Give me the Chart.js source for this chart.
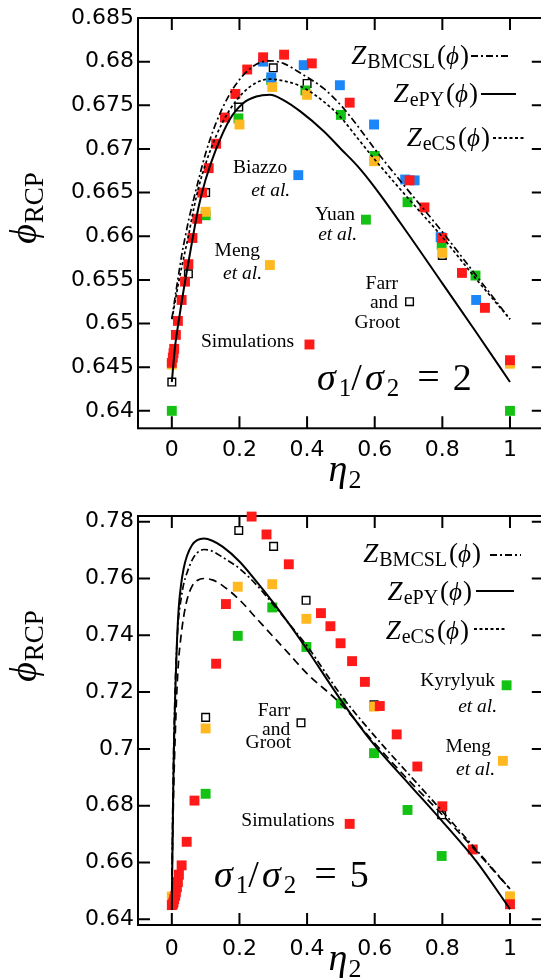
<!DOCTYPE html>
<html>
<head>
<meta charset="utf-8">
<script src="https://cdn.jsdelivr.net/npm/chart.js@4.4.1/dist/chart.umd.min.js"></script>
<style>
html, body { margin: 0; padding: 0; background: #fff; overflow: hidden; width: 541px; height: 980px; }
.panel { position: absolute; left: 0; width: 560px; }
</style>
</head>
<body>
<div class="panel" style="top:0;height:500px"><canvas id="c2" width="560" height="500"></canvas></div>
<div class="panel" style="top:490px;height:490px"><canvas id="c5" width="560" height="490"></canvas></div>
<script>
'use strict';

// ---- axes -------------------------------------------------------------
var xTicks = [0, 0.2, 0.4, 0.6, 0.8, 1];
var yTicks2 = [0.64, 0.645, 0.65, 0.655, 0.66, 0.665, 0.67, 0.675, 0.68, 0.685];
var yTicks5 = [0.64, 0.66, 0.68, 0.7, 0.72, 0.74, 0.76, 0.78];

// ---- sigma1/sigma2 = 2 : theory curves -------------------------------
var etaCurve2 = [0, 0.005, 0.01, 0.02, 0.03, 0.04, 0.05, 0.065, 0.08, 0.1, 0.13, 0.17,
	0.21, 0.25, 0.29, 0.33, 0.38, 0.45, 0.5, 0.55, 0.6, 0.7, 0.8, 0.9, 1];
var bmcsl2 = [0.6505, 0.6518, 0.6531, 0.6556, 0.658, 0.66, 0.6619, 0.6643, 0.6666, 0.6695,
	0.6729, 0.6762, 0.6784, 0.6797, 0.6801, 0.6798, 0.6787, 0.6769, 0.675, 0.6726, 0.67,
	0.6652, 0.6605, 0.6555, 0.6505];
var epy2 = [0.6433, 0.6455, 0.6475, 0.6502, 0.6527, 0.655, 0.6572, 0.6605, 0.6635, 0.6665,
	0.6699, 0.6733, 0.6752, 0.676, 0.6762, 0.6756, 0.6743, 0.672, 0.67, 0.668, 0.6656,
	0.6602, 0.6546, 0.649, 0.6433];
var ecs2 = [0.6505, 0.6515, 0.6526, 0.6547, 0.6566, 0.6584, 0.6602, 0.6632, 0.6657, 0.6683,
	0.6714, 0.6744, 0.6764, 0.6776, 0.678, 0.6778, 0.6772, 0.6754, 0.6736, 0.6712, 0.6688,
	0.6643, 0.6599, 0.6551, 0.6505];

// ---- sigma1/sigma2 = 2 : data (last point of each = marker by its label)
var simEta2 = [0, 0.003, 0.005, 0.007, 0.012, 0.018, 0.029, 0.039, 0.049, 0.061, 0.075,
	0.09, 0.109, 0.131, 0.157, 0.188, 0.223, 0.27, 0.332, 0.414, 0.526, 0.703, 0.747, 0.8,
	0.858, 0.926, 1, 0.407];
var simPhi2 = [0.6455, 0.6461, 0.6466, 0.6471, 0.6487, 0.6503, 0.6527, 0.6548, 0.6568,
	0.6598, 0.662, 0.665, 0.6678, 0.6706, 0.6736, 0.6763, 0.6791, 0.6805, 0.6808, 0.6798,
	0.6753, 0.6664, 0.6633, 0.6598, 0.6558, 0.6518, 0.6458, 0.6476];
var biazzoEta2 = [0.27, 0.294, 0.39, 0.497, 0.598, 0.69, 0.718, 0.795, 0.9, 0.374];
var biazzoPhi2 = [0.68, 0.6782, 0.6796, 0.6773, 0.6728, 0.6665, 0.6664, 0.6599, 0.6527, 0.667];
var yuanEta2 = [0, 0.1, 0.197, 0.294, 0.395, 0.5, 0.6, 0.697, 0.798, 0.898, 1, 0.574];
var yuanPhi2 = [0.64, 0.6624, 0.6735, 0.6779, 0.6767, 0.6739, 0.6692, 0.6639, 0.659, 0.6555, 0.64, 0.6619];
var mengEta2 = [0, 0.1, 0.2, 0.297, 0.4, 0.598, 0.8, 1, 0.29];
var mengPhi2 = [0.6453, 0.6628, 0.6728, 0.6771, 0.6762, 0.6686, 0.6581, 0.6454, 0.6567];
var farrEta2 = [0, 0.049, 0.1, 0.198, 0.3, 0.4, 0.8, 0.703];
var farrPhi2 = [0.6433, 0.6557, 0.665, 0.6748, 0.6793, 0.6775, 0.6578, 0.6525];

// ---- sigma1/sigma2 = 5 : theory curves -------------------------------
var etaCurve5 = [0, 0.002, 0.004, 0.006, 0.008, 0.011, 0.015, 0.02, 0.027, 0.035, 0.045,
	0.06, 0.075, 0.095, 0.12, 0.15, 0.2, 0.25, 0.3, 0.35, 0.4, 0.5, 0.6, 0.7, 0.8, 0.9, 1];
var bmcsl5 = [0.6505, 0.672, 0.69, 0.703, 0.713, 0.7255, 0.737, 0.746, 0.7525, 0.758, 0.762,
	0.7665, 0.769, 0.7702, 0.7696, 0.7675, 0.7635, 0.7578, 0.7508, 0.7436, 0.7362, 0.719,
	0.7045, 0.6912, 0.678, 0.6645, 0.6507];
var epy5 = [0.6433, 0.665, 0.684, 0.699, 0.709, 0.723, 0.737, 0.749, 0.7575, 0.7635, 0.768,
	0.7718, 0.7735, 0.7741, 0.7733, 0.7712, 0.766, 0.759, 0.7515, 0.7435, 0.735, 0.7172,
	0.7012, 0.6878, 0.6745, 0.6605, 0.6436];
var ecs5 = [0.6505, 0.664, 0.677, 0.688, 0.697, 0.708, 0.7205, 0.731, 0.7395, 0.7465, 0.7525,
	0.7573, 0.7593, 0.76, 0.7595, 0.7575, 0.7525, 0.746, 0.7395, 0.733, 0.7265, 0.7158,
	0.702, 0.689, 0.6768, 0.664, 0.6507];

// ---- sigma1/sigma2 = 5 : data (last point of each = marker by its label)
var simEta5 = [0, 0.003, 0.005, 0.007, 0.01, 0.012, 0.015, 0.018, 0.021, 0.029, 0.044, 0.067,
	0.131, 0.16, 0.236, 0.28, 0.346, 0.441, 0.469, 0.499, 0.533, 0.571, 0.615, 0.665, 0.726,
	0.8, 0.89, 1, 0.526];
var simPhi5 = [0.645, 0.6453, 0.646, 0.6471, 0.6483, 0.6495, 0.6513, 0.6531, 0.6557, 0.659,
	0.6673, 0.6818, 0.73, 0.751, 0.7818, 0.7755, 0.765, 0.7478, 0.7432, 0.7372, 0.7309,
	0.7236, 0.7151, 0.7051, 0.6938, 0.6798, 0.6646, 0.6453, 0.6736];
var kyrEta5 = [0.1, 0.195, 0.297, 0.398, 0.5, 0.598, 0.697, 0.798, 0.99];
var kyrPhi5 = [0.6842, 0.7398, 0.7498, 0.7359, 0.716, 0.6985, 0.6785, 0.6623, 0.7224];
var mengEta5 = [0, 0.1, 0.195, 0.297, 0.398, 0.598, 1, 0.979];
var mengPhi5 = [0.648, 0.7072, 0.7571, 0.758, 0.7458, 0.7149, 0.6481, 0.6958];
var farrEta5 = [0.1, 0.198, 0.301, 0.397, 0.598, 0.798, 0.382];
var farrPhi5 = [0.7111, 0.7769, 0.7713, 0.7523, 0.7155, 0.6768, 0.7092];

// ---- look -------------------------------------------------------------
var SERIF = '"Liberation Serif", "DejaVu Serif", serif',
	SANS = '"DejaVu Sans", sans-serif',
	PHI = '\u03d5',
	RED = '#ff1a1a',
	BLUE = '#1a86f7',
	GREEN = '#14c214',
	YELLOW = '#ffb820',
	TICK = 12;

function font(size, italic) {
	return (italic ? 'italic ' : '') + size + 'px ' + SERIF;
}

function pts(xs, ys) {
	return xs.map(function (x, i) {
		return { x: x, y: ys[i] };
	});
}

function curve(xs, ys, dash, width) {
	return {
		type: 'line',
		data: pts(xs, ys),
		borderColor: '#000',
		borderWidth: width,
		borderDash: dash,
		pointRadius: 0,
		fill: false,
		cubicInterpolationMode: 'monotone',
		order: 0,
		clip: false
	};
}

function marks(xs, ys, color, order) {
	return {
		type: 'scatter',
		data: pts(xs, ys),
		pointStyle: 'rect',
		pointRadius: 7,
		pointBackgroundColor: color,
		pointBorderWidth: 0,
		order: order,
		clip: false
	};
}

function openMarks(xs, ys) {
	return {
		type: 'scatter',
		data: pts(xs, ys),
		pointStyle: 'rect',
		pointRadius: 5.4,
		pointBackgroundColor: '#fff',
		pointBorderColor: '#000',
		pointBorderWidth: 1.4,
		order: 9,
		clip: false
	};
}

// draws a row of text pieces: {t, f, dy, gap}
function drawRuns(ctx, x, y, runs, align) {
	var w = 0, cx;
	runs.forEach(function (r) {
		ctx.font = r.f;
		w += ctx.measureText(r.t).width + (r.gap || 0);
	});
	cx = align === 'right' ? x - w : (align === 'center' ? x - w / 2 : x);
	runs.forEach(function (r) {
		ctx.font = r.f;
		ctx.fillText(r.t, cx, y + (r.dy || 0));
		cx += ctx.measureText(r.t).width + (r.gap || 0);
	});
}

function zRuns(sub) {
	return [
		{ t: 'Z', f: font(27, true), gap: 1 },
		{ t: sub, f: font(20), dy: 4, gap: 2 },
		{ t: '(', f: font(27) },
		{ t: PHI, f: font(25, true), gap: 1 },
		{ t: ')', f: font(27) }
	];
}

function ratioRuns(n) {
	return [
		{ t: '\u03c3', f: font(38, true), gap: 3 },
		{ t: '1', f: font(25), dy: 6 },
		{ t: '/', f: font(38), gap: 3 },
		{ t: '\u03c3', f: font(38, true), gap: 3 },
		{ t: '2', f: font(25), dy: 6, gap: 18 },
		{ t: '=', f: font(40), gap: 13 },
		{ t: n, f: font(38) }
	];
}

var deco = {
	id: 'deco',
	beforeDatasetsDraw: function (chart, args, opts) {
		var ctx = chart.ctx,
			a = chart.chartArea,
			xs = chart.scales.x,
			ys = chart.scales.y;
		ctx.save();
		ctx.strokeStyle = '#000';
		ctx.lineWidth = 2;
		ctx.strokeRect(a.left, a.top, a.right - a.left, a.bottom - a.top);
		ctx.beginPath();
		xTicks.forEach(function (v) {
			var p = xs.getPixelForValue(v);
			ctx.moveTo(p, a.bottom);
			ctx.lineTo(p, a.bottom - TICK);
			ctx.moveTo(p, a.top);
			ctx.lineTo(p, a.top + TICK);
		});
		opts.yTicks.forEach(function (v) {
			var p = ys.getPixelForValue(v);
			ctx.moveTo(a.left, p);
			ctx.lineTo(a.left + TICK, p);
			ctx.moveTo(a.right, p);
			ctx.lineTo(a.right - TICK, p);
		});
		ctx.stroke();
		ctx.restore();
	},
	afterDraw: function (chart, args, opts) {
		var ctx = chart.ctx,
			xs = chart.scales.x,
			ys = chart.scales.y;
		ctx.save();
		ctx.fillStyle = '#000';
		ctx.strokeStyle = '#000';

		// labels next to the key markers
		ctx.textBaseline = 'middle';
		ctx.textAlign = 'right';
		opts.notes.forEach(function (n) {
			ctx.font = font(19.5, n[3]);
			ctx.fillText(n[0], xs.getPixelForValue(n[1]), ys.getPixelForValue(n[2]));
		});

		ctx.textAlign = 'left';
		ctx.textBaseline = 'alphabetic';
		drawRuns(ctx, xs.getPixelForValue(opts.ratio[1]), ys.getPixelForValue(opts.ratio[2]),
			ratioRuns(opts.ratio[0]), 'left');

		// legend rows: [subscript, text right, baseline, line x0, line x1, line y, dash]
		opts.legend.forEach(function (r) {
			drawRuns(ctx, r[1], r[2], zRuns(r[0]), 'right');
			ctx.beginPath();
			ctx.lineWidth = 1.8;
			ctx.setLineDash(r[6]);
			ctx.moveTo(r[3], r[5]);
			ctx.lineTo(r[4], r[5]);
			ctx.stroke();
		});
		ctx.setLineDash([]);

		// axis titles
		drawRuns(ctx, opts.xTitle[0], opts.xTitle[1], [
			{ t: '\u03b7', f: font(38, true), gap: 1 },
			{ t: '2', f: font(26), dy: 7 }
		], 'center');
		ctx.translate(opts.yTitle[0], opts.yTitle[1]);
		ctx.rotate(-Math.PI / 2);
		drawRuns(ctx, 0, 0, [
			{ t: PHI, f: font(38, true), gap: 1 },
			{ t: 'RCP', f: font(27), dy: 7 }
		], 'center');
		ctx.restore();
	}
};

function panel(id, cfg) {
	var H = cfg.height;
	return new Chart(document.getElementById(id), {
		type: 'scatter',
		data: { datasets: cfg.datasets },
		options: {
			responsive: false,
			animation: false,
			devicePixelRatio: 1,
			layout: { padding: { top: cfg.top, right: 560 - 543.8, bottom: 0, left: 0 } },
			plugins: {
				legend: { display: false },
				tooltip: { enabled: false },
				deco: cfg.deco
			},
			scales: {
				x: {
					type: 'linear',
					min: -0.1,
					max: 1.1,
					grid: { display: false, drawTicks: false },
					border: { display: false },
					afterFit: function (s) { s.height = H - cfg.bottom; },
					afterBuildTicks: function (s) {
						s.ticks = xTicks.map(function (v) { return { value: v }; });
					},
					ticks: {
						padding: cfg.xPad,
						maxRotation: 0,
						autoSkip: false,
						color: '#000',
						font: { family: SANS, size: 22 },
						callback: function (v) { return String(+v.toFixed(3)); }
					}
				},
				y: {
					type: 'linear',
					min: cfg.yMin,
					max: cfg.yMax,
					grid: { display: false, drawTicks: false },
					border: { display: false },
					afterFit: function (s) { s.width = 138; },
					afterBuildTicks: function (s) {
						s.ticks = cfg.yTicks.map(function (v) { return { value: v }; });
					},
					ticks: {
						padding: 4,
						autoSkip: false,
						color: '#000',
						font: { family: SANS, size: 22 },
						callback: function (v) { return String(+v.toFixed(3)); }
					}
				}
			}
		},
		plugins: [deco]
	});
}

panel('c2', {
	height: 500,
	top: 18,
	bottom: 428.3,
	xPad: 9,
	yMin: 0.638,
	yMax: 0.685,
	yTicks: yTicks2,
	datasets: [
		curve(etaCurve2, bmcsl2, [7, 3, 2, 3], 1.7),
		curve(etaCurve2, epy2, [], 2),
		curve(etaCurve2, ecs2, [3, 2.5], 1.7),
		marks(simEta2, simPhi2, RED, 1),
		marks(biazzoEta2, biazzoPhi2, BLUE, 2),
		marks(mengEta2, mengPhi2, YELLOW, 3),
		marks(yuanEta2, yuanPhi2, GREEN, 4),
		openMarks(farrEta2, farrPhi2)
	],
	deco: {
		yTicks: yTicks2,
		notes: [
			['Biazzo', 0.341, 0.6678], ['et al.', 0.35, 0.6652, true],
			['Yuan', 0.542, 0.6625], ['et al.', 0.548, 0.6601, true],
			['Meng', 0.261, 0.6583], ['et al.', 0.267, 0.6557, true],
			['Farr', 0.669, 0.6546], ['and', 0.669, 0.6524], ['Groot', 0.675, 0.6501],
			['Simulations', 0.3615, 0.6479]
		],
		ratio: ['2', 0.4296, 0.6424],
		legend: [
			['BMCSL', 469, 64, 471, 510, 56, [7, 3, 2, 3]],
			['ePY', 478, 102, 481, 516, 94, []],
			['eCS', 490, 146, 493, 526, 138, [3, 2.5]]
		],
		xTitle: [345, 481],
		yTitle: [36, 208]
	}
});

panel('c5', {
	height: 490,
	top: 26,
	bottom: 435,
	xPad: 11,
	yMin: 0.638,
	yMax: 0.782,
	yTicks: yTicks5,
	datasets: [
		curve(etaCurve5, bmcsl5, [7, 3, 2, 3], 1.7),
		curve(etaCurve5, epy5, [], 2),
		curve(etaCurve5, ecs5, [8, 5], 1.7),
		marks(simEta5, simPhi5, RED, 1),
		marks(mengEta5, mengPhi5, YELLOW, 3),
		marks(kyrEta5, kyrPhi5, GREEN, 4),
		openMarks(farrEta5, farrPhi5)
	],
	deco: {
		yTicks: yTicks5,
		notes: [
			['Farr', 0.35, 0.7134], ['and', 0.35, 0.7068], ['Groot', 0.3527, 0.7021],
			['Kyrylyuk', 0.956, 0.724], ['et al.', 0.962, 0.7149, true],
			['Meng', 0.944, 0.7008], ['et al.', 0.956, 0.6927, true],
			['Simulations', 0.481, 0.6745]
		],
		ratio: ['5', 0.125, 0.6514],
		legend: [
			['BMCSL', 481, 72, 490, 521, 65, [7, 3, 2, 3]],
			['ePY', 472, 110, 476, 514, 101, []],
			['eCS', 469, 149, 474, 505, 139, [3, 2.5]]
		],
		xTitle: [345, 480],
		yTitle: [36, 156]
	}
});
</script>
</body>
</html>
